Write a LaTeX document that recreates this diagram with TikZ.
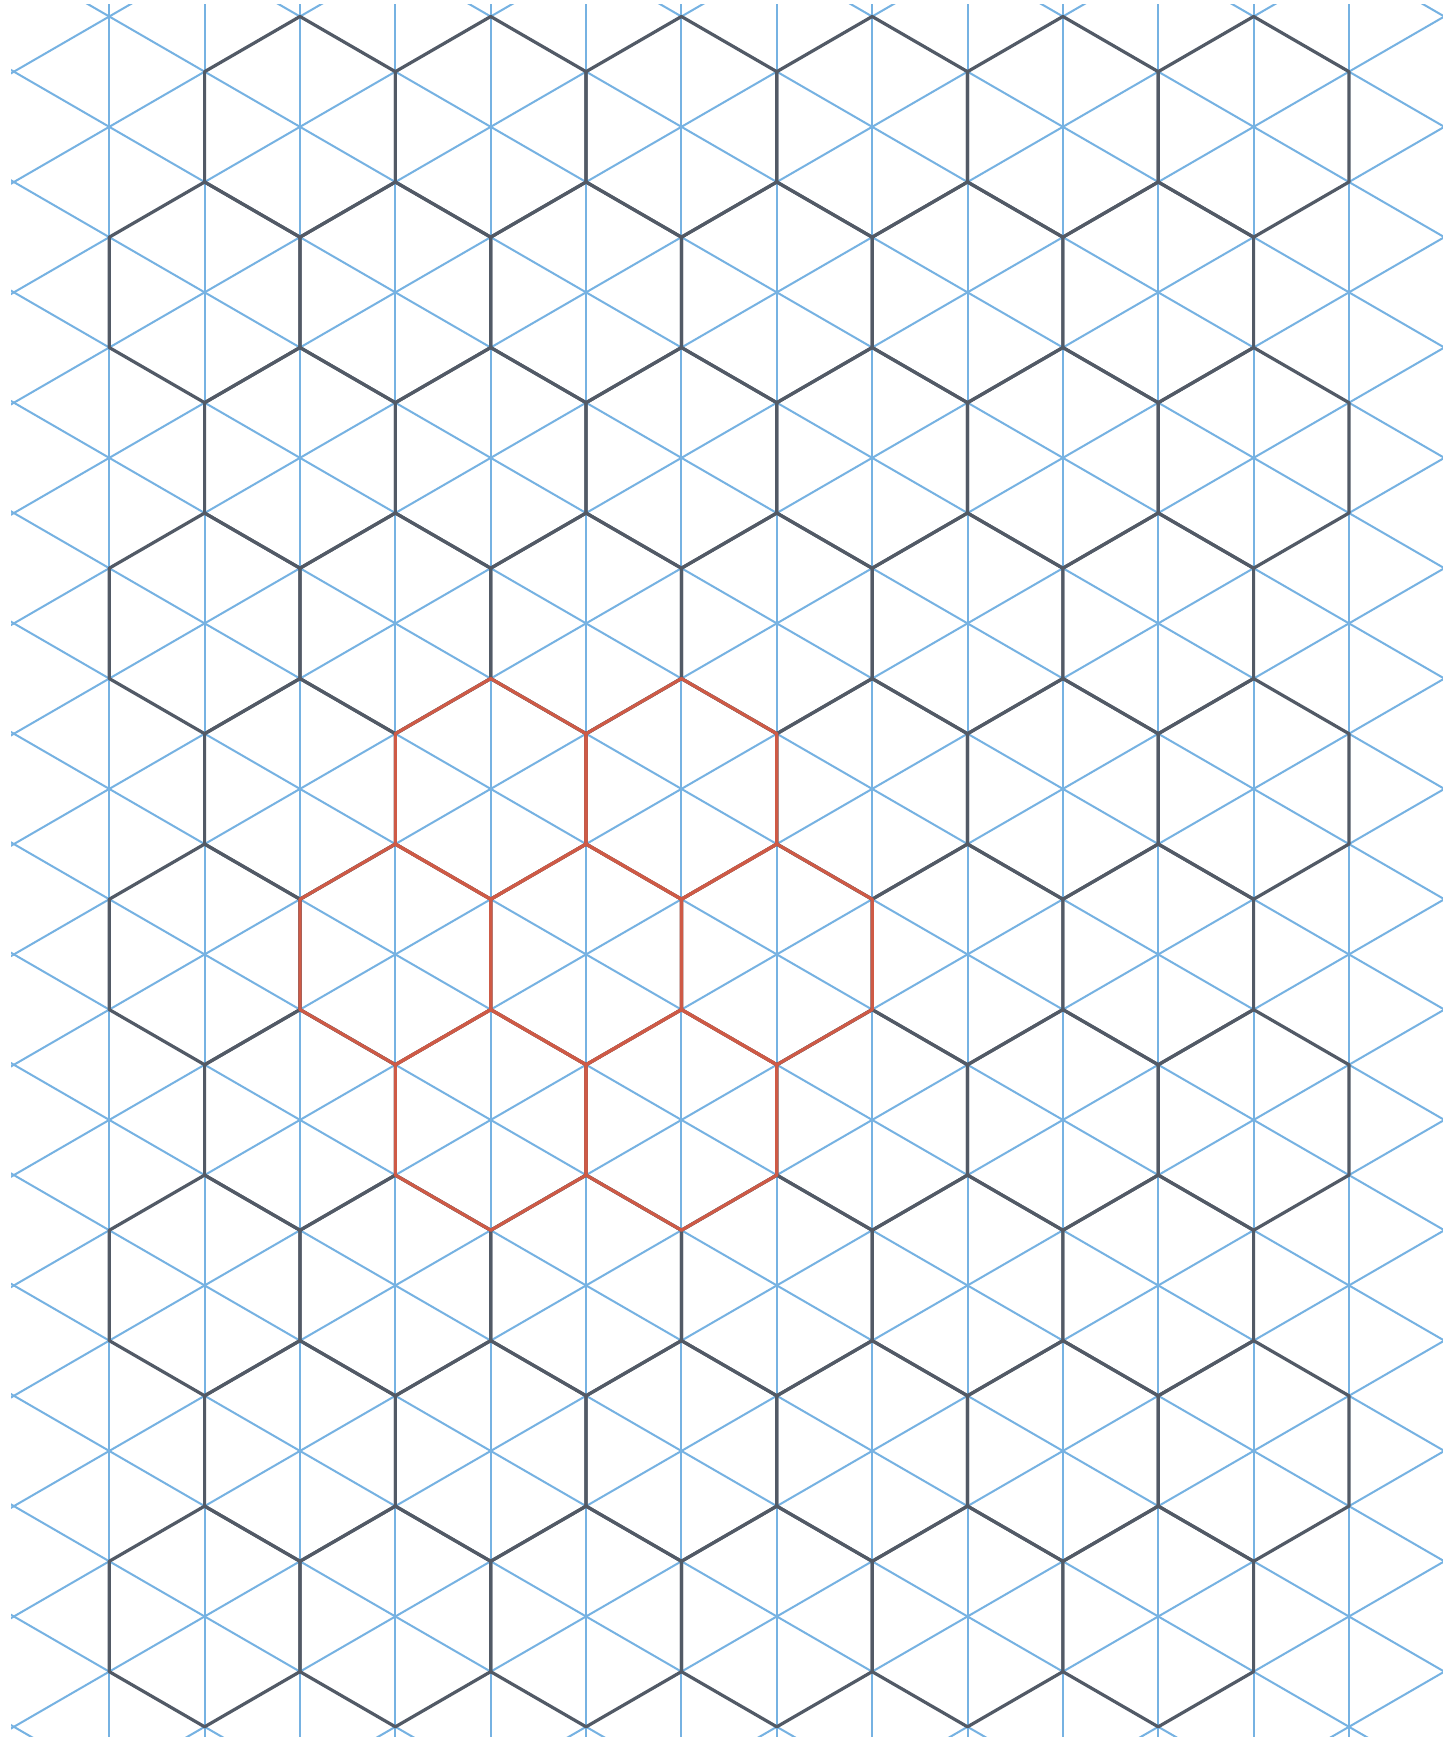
\documentclass[tikz,border=0pt]{standalone}
\usepackage{tikz}
\definecolor{gridblue}{RGB}{118,178,226}
\definecolor{hexgray}{RGB}{82,90,102}
\definecolor{hexred}{RGB}{206,90,70}
% one tile of the honeycomb, centre (#2,#3) on the triangle grid
\newcommand{\hexcell}[3]{\draw[#1] (#2,#3-2) -- (#2+1,#3-1) -- (#2+1,#3+1) -- (#2,#3+2) -- (#2-1,#3+1) -- (#2-1,#3-1) -- cycle;}

\begin{document}
\begin{tikzpicture}[x=47.68pt, y=-27.585pt,
    gridline/.style={draw=gridblue, line width=1.0pt},
    hexline/.style={draw=hexgray, line width=1.6pt, line join=round},
    redline/.style={draw=hexred, line width=1.6pt, line join=round}
]
    \path[use as bounding box, fill=white] (-0.1458,-0.299) rectangle (14.986,31.185);

    % triangle grid
    \begin{scope}
        \clip (-0.03,-0.21) rectangle (14.986,31.185);
        \foreach \i in {1,...,14} {\draw[gridline] (\i,-1) -- (\i,32);}
        \foreach \c in {-1,1,...,47} {\draw[gridline] (\c+2,-2) -- (\c-34,34);}
        \foreach \c in {-33,-31,...,15} {\draw[gridline] (\c-2,-2) -- (\c+34,34);}
    \end{scope}

    % honeycomb rows
    \foreach \r in {0,...,9} {
        \pgfmathtruncatemacro{\hj}{2+3*\r}
        \pgfmathtruncatemacro{\hi}{3-mod(\r,2)}
        \foreach \k in {0,...,5} {
            \pgfmathtruncatemacro{\hx}{\hi+2*\k}
            \hexcell{hexline}{\hx}{\hj}
        }
    }

    % red flower
    \foreach \hx/\hj in {5/14,7/14,4/17,6/17,8/17,5/20,7/20} {
        \hexcell{redline}{\hx}{\hj}
    }
\end{tikzpicture}
\end{document}
